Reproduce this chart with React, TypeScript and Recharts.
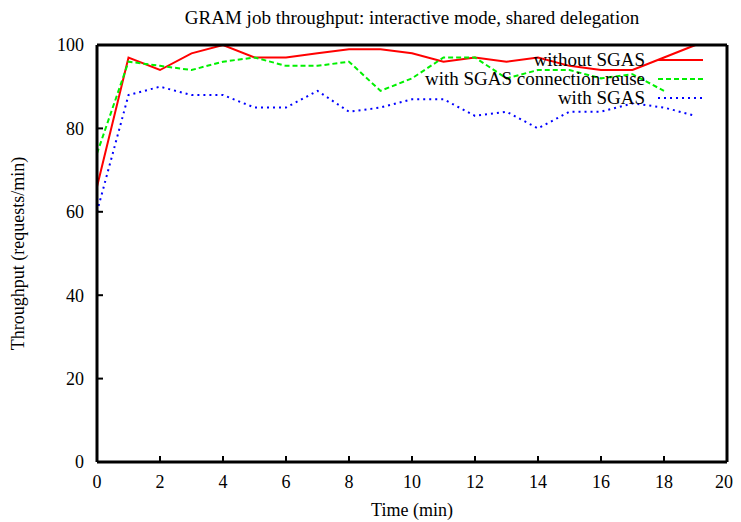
import { Label, Line, LineChart, XAxis, YAxis } from 'recharts';

const times = [0, 1, 2, 3, 4, 5, 6, 7, 8, 9, 10, 11, 12, 13, 14, 15, 16, 17, 18, 19];
const withoutSgas = [66, 97, 94, 98, 100, 97, 97, 98, 99, 99, 98, 96, 97, 96, 97, 95, 94, 94, 97, 100];
const withSgasReuse = [74, 96, 95, 94, 96, 97, 95, 95, 96, 89, 92, 97, 97, 92, 94, 94, 92, 93, 89, null];
const withSgas = [60, 88, 90, 88, 88, 85, 85, 89, 84, 85, 87, 87, 83, 84, 80, 84, 84, 86, 85, 83];

const xTicks = [0, 2, 4, 6, 8, 10, 12, 14, 16, 18, 20];
const yTicks = [0, 20, 40, 60, 80, 100];

const seriesNames = ['without SGAS', 'with SGAS connection reuse', 'with SGAS'];
const seriesColors = ['#ff0000', '#00f000', '#0000ff'];
const seriesDash = [undefined, '5 3', '2 4'];

const FONT = '"Liberation Serif", "DejaVu Serif", serif';

const data = times.map((t, i) => ({
  t,
  a: withoutSgas[i],
  b: withSgasReuse[i],
  c: withSgas[i],
}));

const tickStyle = { fontSize: 18, fill: '#000', fontFamily: FONT };
const axisLineStyle = { stroke: '#000', strokeWidth: 3 };
const tickLineStyle = { stroke: '#000', strokeWidth: 2 };

function YTitle(props: any) {
  const vb = props.viewBox;
  const cy = vb.y + vb.height / 2;
  return (
    <text
      x={10}
      y={cy}
      transform={`rotate(-90 10 ${cy})`}
      textAnchor="middle"
      dominantBaseline="central"
      style={{ fontSize: 18, fontFamily: FONT, fill: '#000' }}
    >
      Throughput (requests/min)
    </text>
  );
}

export default function App() {
  return (
    <div style={{ position: 'relative', width: 725, height: 514, fontFamily: FONT }}>
      <div
        style={{
          position: 'absolute',
          top: -1,
          left: 89,
          width: 630,
          textAlign: 'center',
          fontSize: 19,
          lineHeight: '21px',
        }}
      >
        GRAM job throughput: interactive mode, shared delegation
      </div>
      <LineChart width={725} height={514} data={data} margin={{ top: 36, right: 5, bottom: 0, left: 0 }}>
        <XAxis
          dataKey="t"
          type="number"
          domain={[0, 20]}
          ticks={xTicks}
          height={60}
          tick={tickStyle}
          tickSize={-6}
          tickMargin={19}
          axisLine={axisLineStyle}
          tickLine={tickLineStyle}
        >
          <Label value="Time (min)" position="insideBottom" offset={6} style={{ fontSize: 18, fontFamily: FONT, fill: '#000' }} />
        </XAxis>
        <XAxis
          xAxisId="top"
          dataKey="t"
          orientation="top"
          type="number"
          domain={[0, 20]}
          ticks={xTicks}
          height={1}
          tick={false}
          tickSize={-6}
          axisLine={axisLineStyle}
          tickLine={tickLineStyle}
        />
        <YAxis
          type="number"
          domain={[0, 100]}
          ticks={yTicks}
          width={89}
          tick={tickStyle}
          tickSize={-6}
          tickMargin={19}
          axisLine={axisLineStyle}
          tickLine={tickLineStyle}
        >
          <Label content={YTitle} />
        </YAxis>
        <YAxis
          yAxisId="right"
          orientation="right"
          type="number"
          domain={[0, 100]}
          ticks={yTicks}
          width={1}
          tick={false}
          tickSize={-6}
          axisLine={axisLineStyle}
          tickLine={tickLineStyle}
        />
        {['a', 'b', 'c'].map((key, i) => (
          <Line
            key={key}
            dataKey={key}
            name={seriesNames[i]}
            xAxisId={i === 2 ? 'top' : 0}
            yAxisId={i === 2 ? 'right' : 0}
            type="linear"
            stroke={seriesColors[i]}
            strokeWidth={2}
            strokeDasharray={seriesDash[i]}
            dot={false}
            activeDot={false}
            isAnimationActive={false}
          />
        ))}
      </LineChart>
      <div style={{ position: 'absolute', top: 42, right: 30, fontSize: 19 }}>
        {seriesNames.map((name, i) => (
          <div key={name} style={{ display: 'flex', alignItems: 'center', justifyContent: 'flex-end', height: 19 }}>
            <span style={{ lineHeight: '19px' }}>{name}</span>
            <svg width={58} height={19} style={{ display: 'block' }}>
              <line
                x1={13}
                y1={10}
                x2={58}
                y2={10}
                stroke={seriesColors[i]}
                strokeWidth={2}
                strokeDasharray={seriesDash[i]}
              />
            </svg>
          </div>
        ))}
      </div>
    </div>
  );
}
